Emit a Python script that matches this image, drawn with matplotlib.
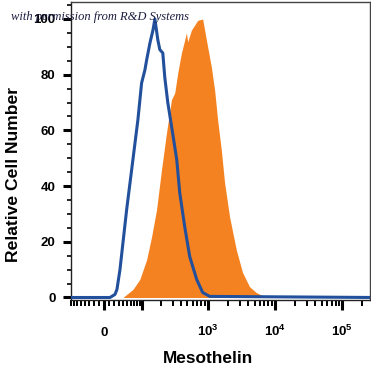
import numpy as np
import matplotlib
matplotlib.use("Agg")
import matplotlib.pyplot as plt
from matplotlib.ticker import FixedLocator, FixedFormatter

# ---- data (fluorescence intensity vs relative cell number) ----
iso_x = [-80, 11.9, 22.2, 26.4, 33.1, 49.3, 66.9, 83.0, 96.5, 109.9, 117.5, 133.1, 148.8,
         159.6, 177.5, 190.6, 212, 227.6, 252.8, 290.6, 345.6, 383.4, 455.5, 540.8, 687,
         844, 1072, 300000]
iso_y = [0, 0, 1.1, 2.9, 10, 31.5, 49.5, 63.8, 77, 81.7, 85.3, 91.4, 96,
         100, 92.5, 89, 87.8, 79, 70, 61, 49.5, 37.6, 25.4, 14.7, 6.5,
         1.8, 0.4, 0]

meso_x = [40.1, 66.9, 89.8, 117.5, 141.6, 169.4, 202.5, 241.6, 287.6, 322.5, 357.7, 406.5,
          455.5, 483, 505, 573, 641.6, 711, 844, 903.6, 1001.7, 1136, 1272, 1410, 1599,
          1790, 2122, 2668, 3306, 4198, 5275, 7420]
meso_y = [0.0, 2.9, 6.5, 13.6, 21.9, 31.5, 45.9, 59.1, 71, 73.5, 80.6, 87.8,
          92.5, 95, 91.8, 96, 97.8, 99.5, 100, 96, 90, 82.8, 74.5, 63.8, 53,
          41.2, 29, 17.2, 9, 3.9, 1.8, 0.0]

x_major = [0, 100, 1000, 10000, 100000]
x_major_labels = ["0", "", r"$10^3$", r"$10^4$", r"$10^5$"]
y_major = [0, 20, 40, 60, 80, 100]

W = 57.7  # asinh linearization width


def fwd(v):
    v = np.asarray(v, dtype=float)
    return np.arcsinh(v / W) / np.log(10)


def inv(u):
    u = np.asarray(u, dtype=float)
    return np.sinh(u * np.log(10)) * W


plt.rcParams['font.family'] = ['Liberation Sans', 'DejaVu Sans']
plt.rcParams['mathtext.fontset'] = 'custom'
plt.rcParams['mathtext.rm'] = 'Liberation Sans:bold'
plt.rcParams['mathtext.it'] = 'Liberation Sans:bold'
plt.rcParams['mathtext.bf'] = 'Liberation Sans:bold'

fig = plt.figure(figsize=(3.71, 3.72), dpi=100)
ax = fig.add_axes([71/371, 1-300/372, 299/371, 298/372])
ax.set_xscale('function', functions=(fwd, inv))

orange = "#F58220"
blue = "#22509C"
ax.fill_between(meso_x, meso_y, 0, color=orange, lw=0, zorder=2)
ax.plot(iso_x, iso_y, color=blue, lw=2.2, zorder=3, solid_joinstyle='round')

ax.set_xlim(-80, 260000)
ax.set_ylim(-0.9, 106.1)

# x ticks
minor = []
for k in range(1, 5):
    for m in range(2, 10):
        minor.append(m * 10**k)
for m in range(1, 9):
    minor.append(-m * 10)
minor.append(10)
minor.append(200000)
ax.xaxis.set_major_locator(FixedLocator(x_major))
ax.xaxis.set_major_formatter(FixedFormatter(x_major_labels))
ax.xaxis.set_minor_locator(FixedLocator(minor))
ax.tick_params(axis='x', which='major', direction='out', length=7, width=2.2, pad=0,
               labelsize=9.5, color='black')
ax.tick_params(axis='x', which='minor', direction='out', length=4, width=1.4, color='black')
for lab in ax.get_xticklabels():
    lab.set_fontweight('bold')
    lab.set_verticalalignment('baseline')
# place label baselines ~33 px below the bottom spine
fig.canvas.draw()
for t in ax.xaxis.get_major_ticks():
    t.set_pad(19)
    t.label1.set_verticalalignment('baseline')

ax.yaxis.set_major_locator(FixedLocator(y_major))
ax.yaxis.set_minor_locator(FixedLocator([v for v in range(5, 106, 5) if v % 20]))
ax.tick_params(axis='y', which='major', direction='out', length=6, width=2.2, pad=5,
               labelsize=9.5, color='black')
ax.tick_params(axis='y', which='minor', direction='out', length=3, width=1.2, color='black')
for lab in ax.get_yticklabels():
    lab.set_fontweight('bold')

for s in ['top', 'right']:
    ax.spines[s].set_color('#444444')
    ax.spines[s].set_linewidth(1.0)
for s in ['left', 'bottom']:
    ax.spines[s].set_color('#222222')
    ax.spines[s].set_linewidth(1.0)

ax.set_xlabel("Mesothelin", fontsize=12.4, fontweight='bold')
ax.xaxis.set_label_coords((208 - 71) / 299, (300 - 351) / 298)
ax.set_ylabel("Relative Cell Number", fontsize=12.6, fontweight='bold')
ax.yaxis.set_label_coords((21 - 71) / 299, (300 - 175) / 298)

fig.text(11/371, 1 - 17/372, "with permission from R&D Systems", fontsize=9,
         family=['Liberation Serif', 'DejaVu Serif'], style='italic', color='#1c1c40',
         va='center', ha='left', zorder=10)

fig.savefig("out.png", dpi=100)
